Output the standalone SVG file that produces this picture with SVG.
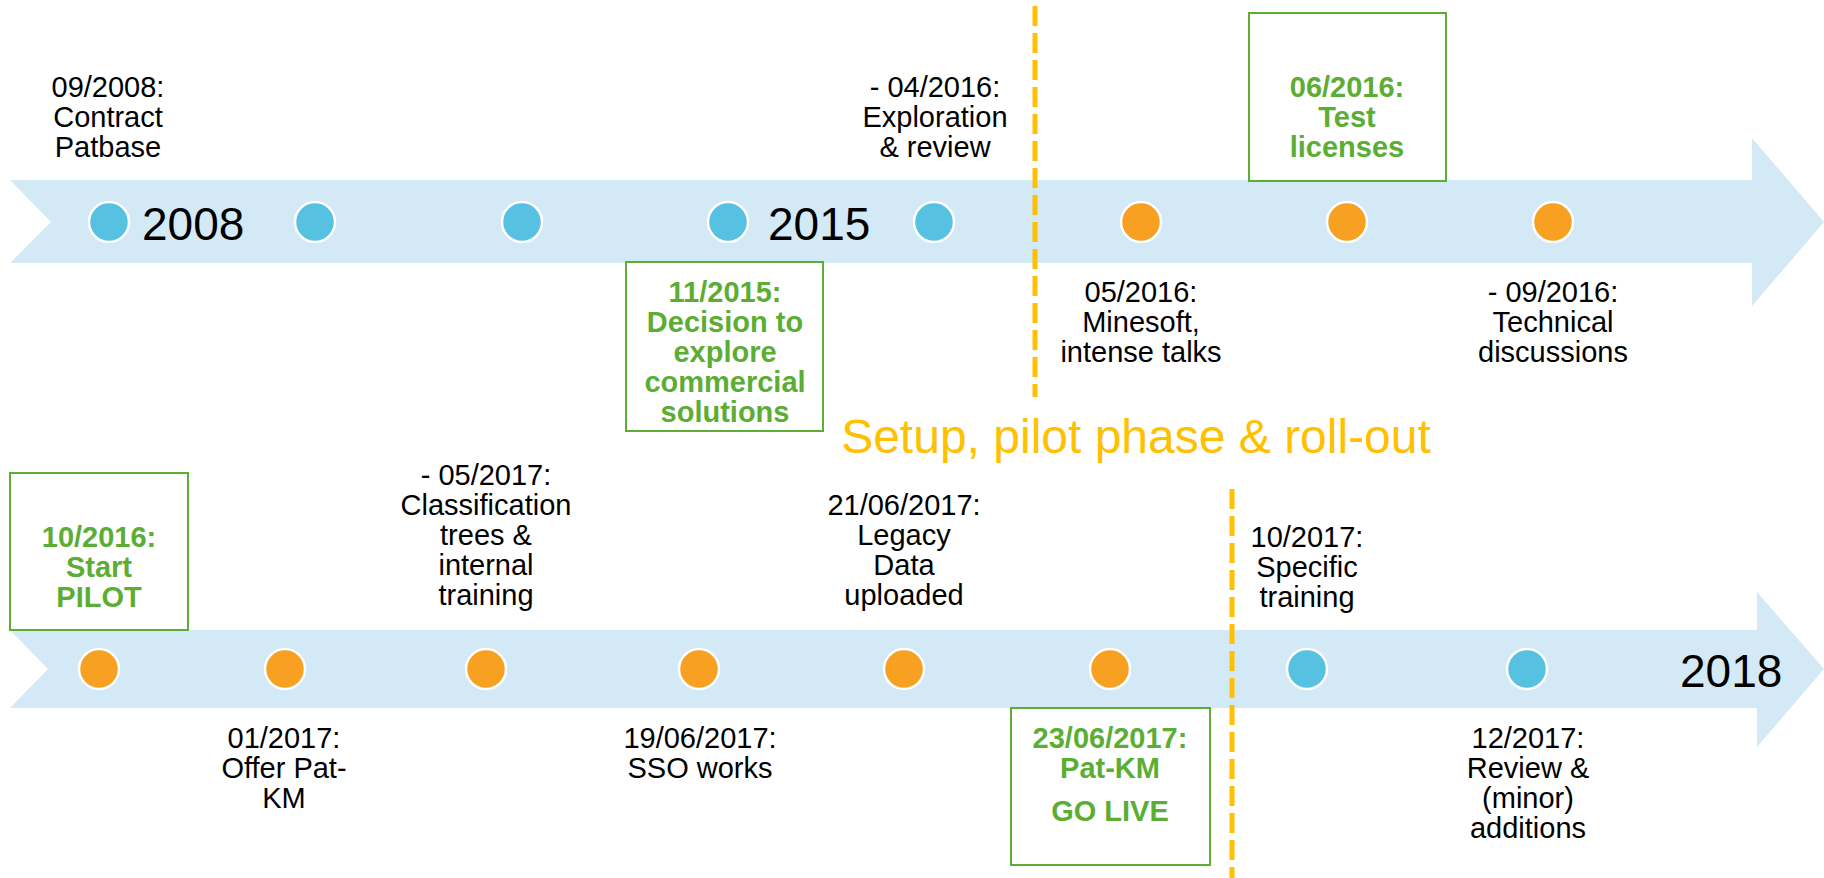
<svg xmlns="http://www.w3.org/2000/svg" width="1824" height="878" viewBox="0 0 1824 878">
<style>
text{font-family:"Liberation Sans",Arial,sans-serif;text-anchor:middle}
.lbl{font-size:29px;fill:#000}
.hl{font-size:29px;fill:#5CAD34;font-weight:bold}
.yr{font-size:46px;fill:#000;text-anchor:start}
.band{fill:#D3E9F5}
.b{fill:#56C1E0;stroke:#fff;stroke-width:2.5}
.o{fill:#F7A021;stroke:#fff;stroke-width:2.5}
.box{fill:#fff;stroke:#5CAD34;stroke-width:2}
.div{stroke:#FFC000;stroke-width:5;stroke-dasharray:20 7;fill:none}
</style>
<g id="timelines">
<polygon class="band" points="10,180 1752,180 1752,138 1824,222 1752,306 1752,263 10,263 51,222"/>
<polygon class="band" points="10,630 1757,630 1757,592 1824,669 1757,747 1757,708 10,708 48,669"/>
</g>
<g id="connectors">
<line class="div" x1="1035" y1="6" x2="1035" y2="397"/>
<line class="div" x1="1232" y1="489" x2="1232" y2="878"/>
</g>
<g id="markers">
<circle class="b" cx="109" cy="222" r="20"/>
<circle class="b" cx="315" cy="222" r="20"/>
<circle class="b" cx="522" cy="222" r="20"/>
<circle class="b" cx="728" cy="222" r="20"/>
<circle class="b" cx="934" cy="222" r="20"/>
<circle class="o" cx="1141" cy="222" r="20"/>
<circle class="o" cx="1347" cy="222" r="20"/>
<circle class="o" cx="1553" cy="222" r="20"/>
<circle class="o" cx="99" cy="669" r="20"/>
<circle class="o" cx="285" cy="669" r="20"/>
<circle class="o" cx="486" cy="669" r="20"/>
<circle class="o" cx="699" cy="669" r="20"/>
<circle class="o" cx="904" cy="669" r="20"/>
<circle class="o" cx="1110" cy="669" r="20"/>
<circle class="b" cx="1307" cy="669" r="20"/>
<circle class="b" cx="1527" cy="669" r="20"/>
</g>
<g id="years">
<text class="yr" x="142" y="240">2008</text>
<text class="yr" x="768" y="240">2015</text>
<text class="yr" x="1680" y="687">2018</text>
</g>
<g id="n-2008-09"><text class="lbl"><tspan x="108" y="97">09/2008:</tspan><tspan x="108" y="127">Contract</tspan><tspan x="108" y="157">Patbase</tspan></text></g>
<g id="n-2016-04"><text class="lbl"><tspan x="935" y="97">- 04/2016:</tspan><tspan x="935" y="127">Exploration</tspan><tspan x="935" y="157">&amp; review</tspan></text></g>
<g id="n-2016-06"><rect class="box" x="1249" y="13" width="197" height="168"/><text class="hl"><tspan x="1347" y="97">06/2016:</tspan><tspan x="1347" y="127">Test</tspan><tspan x="1347" y="157">licenses</tspan></text></g>
<g id="n-2015-11"><rect class="box" x="626" y="262" width="197" height="169"/><text class="hl"><tspan x="725" y="302">11/2015:</tspan><tspan x="725" y="332">Decision to</tspan><tspan x="725" y="362">explore</tspan><tspan x="725" y="392">commercial</tspan><tspan x="725" y="422">solutions</tspan></text></g>
<g id="n-2016-05"><text class="lbl"><tspan x="1141" y="302">05/2016:</tspan><tspan x="1141" y="332">Minesoft,</tspan><tspan x="1141" y="362">intense talks</tspan></text></g>
<g id="n-2016-09"><text class="lbl"><tspan x="1553" y="302">- 09/2016:</tspan><tspan x="1553" y="332">Technical</tspan><tspan x="1553" y="362">discussions</tspan></text></g>
<g id="phase-title"><text x="1136" y="453" style="font-size:48px;fill:#FFC000">Setup, pilot phase &amp; roll-out</text></g>
<g id="n-2016-10"><rect class="box" x="10" y="473" width="178" height="157"/><text class="hl"><tspan x="99" y="547">10/2016:</tspan><tspan x="99" y="577">Start</tspan><tspan x="99" y="607">PILOT</tspan></text></g>
<g id="n-2017-05"><text class="lbl"><tspan x="486" y="485">- 05/2017:</tspan><tspan x="486" y="515">Classification</tspan><tspan x="486" y="545">trees &amp;</tspan><tspan x="486" y="575">internal</tspan><tspan x="486" y="605">training</tspan></text></g>
<g id="n-2017-06-21"><text class="lbl"><tspan x="904" y="515">21/06/2017:</tspan><tspan x="904" y="545">Legacy</tspan><tspan x="904" y="575">Data</tspan><tspan x="904" y="605">uploaded</tspan></text></g>
<g id="n-2017-10"><text class="lbl"><tspan x="1307" y="547">10/2017:</tspan><tspan x="1307" y="577">Specific</tspan><tspan x="1307" y="607">training</tspan></text></g>
<g id="n-2017-01"><text class="lbl"><tspan x="284" y="748">01/2017:</tspan><tspan x="284" y="778">Offer Pat-</tspan><tspan x="284" y="808">KM</tspan></text></g>
<g id="n-2017-06-19"><text class="lbl"><tspan x="700" y="748">19/06/2017:</tspan><tspan x="700" y="778">SSO works</tspan></text></g>
<g id="n-2017-06-23"><rect class="box" x="1011" y="708" width="199" height="157"/><text class="hl"><tspan x="1110" y="748">23/06/2017:</tspan><tspan x="1110" y="778">Pat-KM</tspan><tspan x="1110" y="821">GO LIVE</tspan></text></g>
<g id="n-2017-12"><text class="lbl"><tspan x="1528" y="748">12/2017:</tspan><tspan x="1528" y="778">Review &amp;</tspan><tspan x="1528" y="808">(minor)</tspan><tspan x="1528" y="838">additions</tspan></text></g>
</svg>
